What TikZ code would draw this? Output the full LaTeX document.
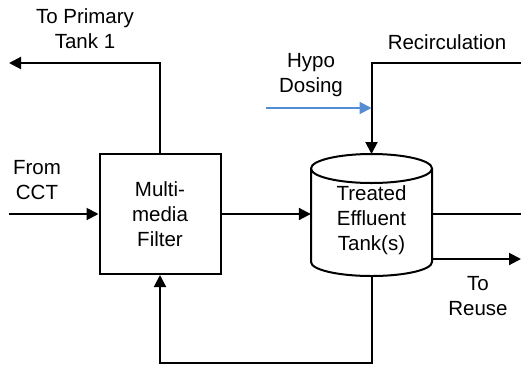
\documentclass[tikz,border=0pt]{standalone}
\usepackage{fontspec}
\setmainfont{Liberation Sans}
\usetikzlibrary{arrows.meta}
\definecolor{dosing}{RGB}{84,141,212}
\begin{document}
\begin{tikzpicture}[x=1pt,y=-1pt,
  pipe/.style={line width=2pt},
  flow/.style={pipe,-{Triangle[length=12pt,width=12pt]}},
  lbl/.style={font=\fontsize{20.5}{25}\selectfont,align=center,inner sep=0pt},
  unit/.style={draw,line width=2pt,minimum width=121pt,minimum height=120pt,inner sep=0pt,
    font=\fontsize{20.5}{25}\selectfont,align=center}]
\useasboundingbox (0,0) rectangle (521,367);

% multimedia filter
\node[unit] (mmf) at (160,214) {Multi-\\media\\Filter};

% treated effluent tank, drawn as a cylinder around a text node
\node[lbl,minimum width=121pt,minimum height=93pt] (tank) at (371.5,220) {Treated\\Effluent\\Tank(s)};
\draw[pipe] (311,168.5) -- (311,262) arc[start angle=180,end angle=0,x radius=60.5,y radius=14]
  -- (432,168.5);
\draw[pipe] (371.5,168.5) ellipse[x radius=60.5,y radius=14.5];
\coordinate (tanktop) at (371.5,154);
\coordinate (tankbot) at (371.5,276);

% labels
\node[lbl] (tp) at (85,29) {To Primary\\Tank 1};
\node[lbl] (cct) at (37,180) {From\\CCT};
\node[lbl] (rec) at (447,42) {Recirculation};
\node[lbl] (hypo) at (311,75) {Hypo\\Dosing};
\node[lbl] (reuse) at (478,296) {To\\Reuse};

% free ends
\coordinate (tpend) at (9,63);
\coordinate (cctin) at (9,214);
\coordinate (recin) at (521,63);
\coordinate (hypoin) at (266,108);
\coordinate (outA) at (521,214);
\coordinate (outB) at (521,259);
\coordinate (loop) at (371.5,363);

% connectors
\draw[flow] (mmf.north) |- (tpend);
\draw[flow] (cctin) -- (mmf.west);
\draw[flow] (mmf.east) -- (mmf.east -| tank.west);
\draw[flow] (recin) -| (tanktop);
\draw[pipe,-{Triangle[length=12pt,width=12pt]},draw=dosing,fill=dosing] (hypoin) -- (371.5,108);
\draw[pipe] (432,214) -- (outA);
\draw[flow] (432,259) -- (outB);
\draw[flow] (tankbot) -- (loop) -| (mmf.south);
\end{tikzpicture}
\end{document}
